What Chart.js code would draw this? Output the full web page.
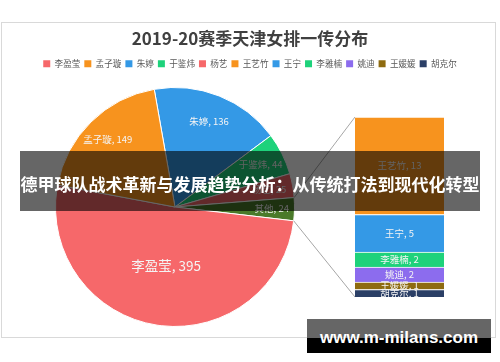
<!DOCTYPE html>
<html><head><meta charset="utf-8">
<script src="https://cdn.jsdelivr.net/npm/chart.js@4.4.0/dist/chart.umd.min.js"></script>
<style>
html,body{margin:0;padding:0;background:#fff;}
#wrap{position:relative;width:500px;height:362px;overflow:hidden;background:#fff;}
#frame{position:absolute;left:1px;top:22px;width:495px;height:316px;border:1px solid #d9d9d9;box-sizing:border-box;}
#pie{position:absolute;left:0;top:0;}
#bar{position:absolute;left:355px;top:117px;}
#banner{position:absolute;left:20px;top:151px;width:460px;height:60px;background:rgba(0,0,0,0.6);color:#fff;font-family:'Noto Sans CJK SC',sans-serif;font-weight:bold;font-size:17px;text-align:center;white-space:nowrap;line-height:60px;}
#banner span{position:relative;top:3px;}
#wm{position:absolute;left:307px;top:319px;width:184px;height:34px;background:linear-gradient(#666 0,#666 56%,#000 56%,#000 100%);color:#fff;font-family:'Liberation Sans',Arial,sans-serif;font-weight:bold;font-size:17px;text-align:center;line-height:34px;}
#wm span{position:relative;top:2px;}
</style></head>
<body>
<div id="wrap">
  <div id="frame"></div>
  <canvas id="pie" width="500" height="362"></canvas>
  <canvas id="bar" width="89" height="180"></canvas>
  <div id="banner"><span>德甲球队战术革新与发展趋势分析：从传统打法到现代化转型</span></div>
  <div id="wm"><span>www.m-milans.com</span></div>
</div>
<script>
// ---- data ----
const titleText = '2019-20赛季天津女排一传分布';
const legendNames = ['李盈莹','孟子璇','朱婷','于鉴炜','杨艺','王艺竹','王宁','李雅楠','姚迪','王媛媛','胡克尔'];
const legendColors = ['#F6686A','#F7931E','#3499E6','#1ED27B','#F6686A','#F7931E','#3499E6','#1ED27B','#8C6CEE','#8E6B10','#2B3F66'];
const pieNames = ['朱婷','于鉴炜','杨艺','其他','李盈莹','孟子璇'];
const pieValues = [136, 44, 25, 24, 395, 149];
const pieColors = ['#3499E6','#1ED27B','#F6686A','#4A7A2A','#F6686A','#F7931E'];
const barNames = ['王艺竹','王宁','李雅楠','姚迪','王媛媛','胡克尔'];
const barValues = [13, 5, 2, 2, 1, 1];
const barColors = ['#F7931E','#3499E6','#1ED27B','#8C6CEE','#8E6B10','#2B3F66'];

// ---- styles ----
const otherIndex = pieNames.indexOf('其他');
const pieLabelRadius = [0.77, 0.8, 0.8, 0.81, 0.5, 0.8];
const pieLabelSize = [9.5, 9.5, 9.5, 9.5, 13.5, 9.5];
Chart.defaults.font.family = "'Noto Sans CJK SC','Noto Sans',sans-serif";

let barChart = null;

const pieArea = {
  id: 'pieArea',
  afterLayout(chart) {
    chart.chartArea = {left: 55, top: 87, right: 295, bottom: 327, width: 240, height: 240};
  }
};

const pieLabels = {
  id: 'pieLabels',
  afterDatasetsDraw(chart) {
    const ctx = chart.ctx;
    const meta = chart.getDatasetMeta(0);
    ctx.save();
    ctx.fillStyle = '#f4f4f4';
    ctx.textAlign = 'center';
    ctx.textBaseline = 'middle';
    meta.data.forEach((el, i) => {
      const p = el.getProps(['x','y','startAngle','endAngle','outerRadius'], true);
      const mid = (p.startAngle + p.endAngle) / 2;
      const r = p.outerRadius * pieLabelRadius[i];
      ctx.font = pieLabelSize[i] + "px 'Noto Sans CJK SC',sans-serif";
      ctx.fillText(pieNames[i] + ', ' + pieValues[i], p.x + r * Math.cos(mid), p.y + r * Math.sin(mid));
    });
    ctx.restore();
  }
};

const connectors = {
  id: 'connectors',
  afterDraw(chart) {
    if (!barChart) return;
    const el = chart.getDatasetMeta(0).data[otherIndex];
    const p = el.getProps(['x','y','startAngle','endAngle','outerRadius'], true);
    const cv = barChart.canvas;
    const ys = barChart.scales.y;
    const barEl = barChart.getDatasetMeta(0).data[0];
    const bx = cv.offsetLeft + barEl.x - barEl.width / 2;
    const topY = cv.offsetTop + ys.getPixelForValue(ys.max);
    const botY = cv.offsetTop + ys.getPixelForValue(0);
    const ctx = chart.ctx;
    ctx.save();
    ctx.strokeStyle = '#a6a6a6';
    ctx.lineWidth = 1;
    ctx.beginPath();
    ctx.moveTo(p.x + p.outerRadius * Math.cos(p.startAngle), p.y + p.outerRadius * Math.sin(p.startAngle));
    ctx.lineTo(bx, topY);
    ctx.moveTo(p.x + p.outerRadius * Math.cos(p.endAngle), p.y + p.outerRadius * Math.sin(p.endAngle));
    ctx.lineTo(bx, botY);
    ctx.stroke();
    ctx.restore();
  }
};

const pieChart = new Chart(document.getElementById('pie'), {
  type: 'pie',
  data: {labels: pieNames, datasets: [{data: pieValues, backgroundColor: pieColors, borderColor: '#ffffff', borderWidth: 1}]},
  options: {
    responsive: false,
    animation: false,
    rotation: -10,
    plugins: {
      title: {display: true, text: titleText, color: '#404040', font: {size: 17, weight: 'bold'}, padding: {top: 28, bottom: 7}},
      legend: {
        position: 'top',
        onClick: null,
        labels: {
          boxWidth: 7, boxHeight: 7, padding: 4, color: '#595959', font: {size: 8.6},
          generateLabels: () => legendNames.map((n, i) => ({text: n, fillStyle: legendColors[i], strokeStyle: legendColors[i], lineWidth: 0, hidden: false, index: i, fontColor: '#595959'}))
        }
      },
      tooltip: {enabled: false}
    }
  },
  plugins: [pieArea, pieLabels, connectors]
});

const barLabels = {
  id: 'barLabels',
  afterDatasetsDraw(chart) {
    const ctx = chart.ctx;
    ctx.save();
    ctx.fillStyle = '#f4f4f4';
    ctx.textAlign = 'center';
    ctx.textBaseline = 'middle';
    ctx.font = "9.5px 'Noto Sans CJK SC',sans-serif";
    chart.data.datasets.forEach((ds, di) => {
      const el = chart.getDatasetMeta(di).data[0];
      ctx.fillText(ds.label + ', ' + ds.data[0], el.x, (el.y + el.base) / 2);
    });
    ctx.restore();
  }
};

const barTotal = barValues.reduce((a, b) => a + b, 0);
barChart = new Chart(document.getElementById('bar'), {
  type: 'bar',
  data: {
    labels: [''],
    datasets: barNames.map((n, i) => ({
      label: n, data: [barValues[i]], backgroundColor: barColors[i],
      borderColor: '#ffffff', borderWidth: {top: 1, left: 0, right: 0, bottom: 0}, borderSkipped: false,
      barPercentage: 1, categoryPercentage: 1
    })).reverse()
  },
  options: {
    responsive: false,
    animation: false,
    layout: {padding: 0},
    scales: {
      x: {display: false, stacked: true},
      y: {display: false, stacked: true, min: 0, max: barTotal}
    },
    plugins: {legend: {display: false}, tooltip: {enabled: false}, title: {display: false}}
  },
  plugins: [barLabels]
});

pieChart.draw();
</script>
</body></html>
